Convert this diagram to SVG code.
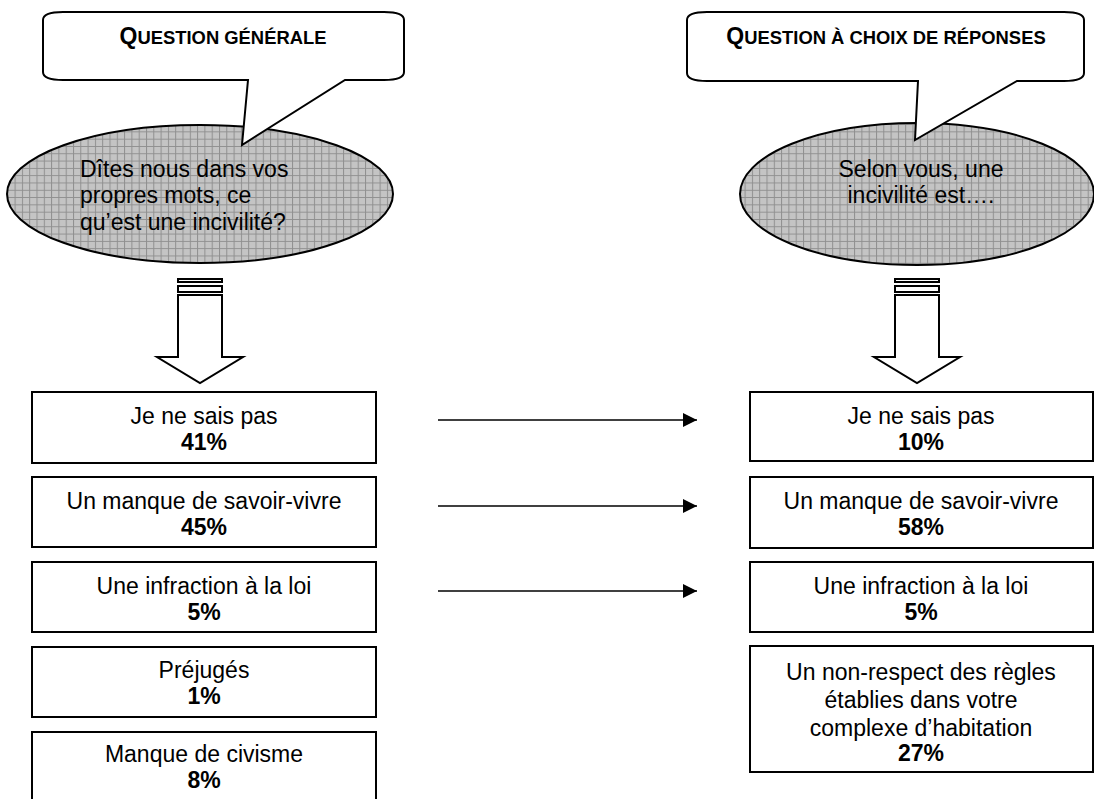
<svg xmlns="http://www.w3.org/2000/svg" width="1094" height="799" viewBox="0 0 1094 799">
<style>
.t{font-family:"Liberation Sans",Arial,sans-serif;fill:#000}
.h{font-weight:bold;text-anchor:middle}
.c{text-anchor:middle;font-size:23px}
.b{font-weight:bold}
.box{fill:#fff;stroke:#000;stroke-width:2}
.call{fill:#fff;stroke:#000;stroke-width:2;stroke-linejoin:miter}
.ell{fill:url(#grid);stroke:#000;stroke-width:2}
.blk{fill:#fff;stroke:#000;stroke-width:2}
.ln{stroke:#000;stroke-width:1.5;fill:none}
</style>
<defs>
<pattern id="grid" width="7.3" height="7.3" patternUnits="userSpaceOnUse">
<rect width="7.3" height="7.3" fill="#c4c4c4"/>
<path d="M0 0.5H7.3M0.5 0V7.3" stroke="#8f8f8f" stroke-width="1"/>
</pattern>
<marker id="ah" markerWidth="14" markerHeight="14" refX="14" refY="7" orient="auto" markerUnits="userSpaceOnUse">
<path d="M0 0L14 7L0 14Z" fill="#000"/>
</marker>
</defs>

<g id="ellipse-left">
<ellipse class="ell" cx="200" cy="194" rx="193" ry="69"/>
<text class="t" font-size="23" x="80" y="177">Dîtes nous dans vos</text>
<text class="t" font-size="23" x="80" y="203">propres mots, ce</text>
<text class="t" font-size="23" x="80" y="230">qu’est une incivilité?</text>
</g>
<g id="ellipse-right">
<ellipse class="ell" cx="917" cy="194" rx="177" ry="71"/>
<text class="t c" x="921" y="177">Selon vous, une</text>
<text class="t c" x="921" y="203">incivilité est….</text>
</g>

<g id="callout-left">
<path class="call" d="M63 12 L384 12 Q404 12 404 20 L404 72 Q404 80 384 80 L345 80 L242 145 L248 80 L63 80 Q43 80 43 72 L43 20 Q43 12 63 12 Z"/>
<text class="t h" x="223" y="44"><tspan font-size="23">Q</tspan><tspan font-size="18.4">UESTION GÉNÉRALE</tspan></text>
</g>
<g id="callout-right">
<path class="call" d="M707 12 L1064 12 Q1084 12 1084 20 L1084 73 Q1084 81 1064 81 L1017 81 L915 140 L918 81 L707 81 Q687 81 687 73 L687 20 Q687 12 707 12 Z"/>
<text class="t h" x="886" y="44"><tspan font-size="23">Q</tspan><tspan font-size="18.4">UESTION À CHOIX DE RÉPONSES</tspan></text>
</g>

<g id="arrow-left">
<rect class="blk" x="178" y="279" width="44" height="3"/>
<rect class="blk" x="178" y="286" width="44" height="6"/>
<path class="blk" d="M178 295 L222 295 L222 357 L243 357 L200 383 L157 357 L178 357 Z"/>
</g>
<g id="arrow-right">
<rect class="blk" x="895" y="279" width="44" height="3"/>
<rect class="blk" x="895" y="286" width="44" height="6"/>
<path class="blk" d="M895 295 L939 295 L939 357 L960 357 L917 383 L874 357 L895 357 Z"/>
</g>

<g id="l1"><rect class="box" x="32" y="392" width="344" height="71"/>
<text class="t c" x="204" y="424">Je ne sais pas</text><text class="t c b" x="204" y="450">41%</text></g>
<g id="l2"><rect class="box" x="32" y="477" width="344" height="70"/>
<text class="t c" x="204" y="509">Un manque de savoir-vivre</text><text class="t c b" x="204" y="535">45%</text></g>
<g id="l3"><rect class="box" x="32" y="562" width="344" height="70"/>
<text class="t c" x="204" y="594">Une infraction à la loi</text><text class="t c b" x="204" y="620">5%</text></g>
<g id="l4"><rect class="box" x="32" y="647" width="344" height="70"/>
<text class="t c" x="204" y="678">Préjugés</text><text class="t c b" x="204" y="704">1%</text></g>
<g id="l5"><rect class="box" x="32" y="732" width="344" height="80"/>
<text class="t c" x="204" y="762">Manque de civisme</text><text class="t c b" x="204" y="788">8%</text></g>

<g id="r1"><rect class="box" x="750" y="392" width="343" height="69"/>
<text class="t c" x="921" y="424">Je ne sais pas</text><text class="t c b" x="921" y="450">10%</text></g>
<g id="r2"><rect class="box" x="750" y="477" width="343" height="71"/>
<text class="t c" x="921" y="509">Un manque de savoir-vivre</text><text class="t c b" x="921" y="535">58%</text></g>
<g id="r3"><rect class="box" x="750" y="562" width="343" height="70"/>
<text class="t c" x="921" y="594">Une infraction à la loi</text><text class="t c b" x="921" y="620">5%</text></g>
<g id="r4"><rect class="box" x="750" y="646" width="343" height="126"/>
<text class="t c" x="921" y="680">Un non-respect des règles</text>
<text class="t c" x="921" y="708">établies dans votre</text>
<text class="t c" x="921" y="736">complexe d’habitation</text>
<text class="t c b" x="921" y="761">27%</text></g>

<g id="connectors">
<line class="ln" x1="438" y1="420" x2="697" y2="420" marker-end="url(#ah)"/>
<line class="ln" x1="438" y1="506" x2="697" y2="506" marker-end="url(#ah)"/>
<line class="ln" x1="438" y1="591" x2="697" y2="591" marker-end="url(#ah)"/>
</g>
</svg>
